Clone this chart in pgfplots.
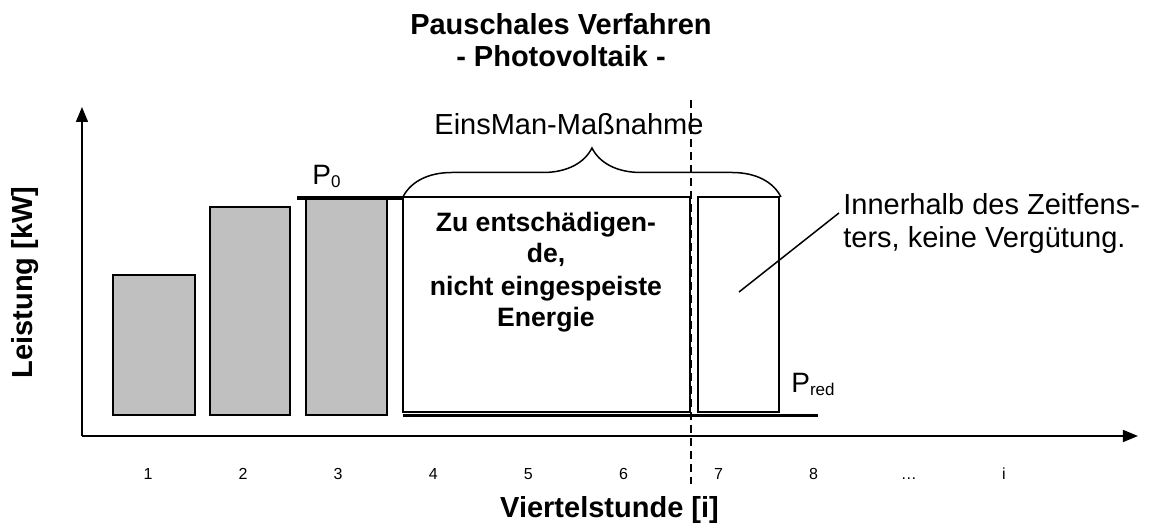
\documentclass[border=0pt]{standalone}
\usepackage{fontspec}
\setmainfont{Liberation Sans}
\usepackage{pgfplots}
\pgfplotsset{compat=1.18}
\usetikzlibrary{arrows.meta,decorations.pathreplacing}
\definecolor{barGray}{HTML}{C0C0C0}
\begin{document}
\begin{tikzpicture}
\begin{axis}[
  scale only axis, width=528pt, height=164.5pt,
  xmin=0.306, xmax=11.41, ymin=0, ymax=329,
  axis lines=left,
  axis line style={line width=0.75pt, -{Triangle[length=7.5pt,width=6pt]}},
  xtick={1,2,3,4,5,6,7,8,9,10},
  xticklabels={1,2,3,4,5,6,7,8,\dots,i},
  ytick=\empty,
  major tick length=0pt,
  xticklabel style={font=\fontsize{8}{9}\selectfont, anchor=base, yshift=-22pt},
  clip=false,
]
% grey bars (quarter hours 1-3)
\addplot[draw=black, line width=0.8pt, fill=barGray] coordinates {(0.632,21) (1.494,21) (1.494,161) (0.632,161)} -- cycle;
\addplot[draw=black, line width=0.8pt, fill=barGray] coordinates {(1.652,21) (2.493,21) (2.493,229) (1.652,229)} -- cycle;
\addplot[draw=black, line width=0.8pt, fill=barGray] coordinates {(2.661,21) (3.513,21) (3.513,237) (2.661,237)} -- cycle;
% white boxes
\addplot[draw=black, line width=0.8pt, fill=white] coordinates {(3.681,24) (6.700,24) (6.700,239) (3.681,239)} -- cycle;
\addplot[draw=black, line width=0.8pt, fill=white] coordinates {(6.784,24) (7.635,24) (7.635,239) (6.784,239)} -- cycle;
% P0 and Pred lines
\addplot[line width=1.8pt] coordinates {(2.567,238) (3.671,238)};
\addplot[line width=1.8pt] coordinates {(3.681,20.5) (8.045,20.5)};
% dashed separator
\addplot[line width=0.6pt, dash pattern=on 4pt off 2.5pt] coordinates {(6.71,336) (6.71,-48)};
% annotation line
\addplot[line width=0.75pt] coordinates {(7.215,144) (8.266,223)};
% brace
\draw[decorate, decoration={brace, amplitude=24.5pt}, line width=0.75pt] (axis cs:3.681,239) -- (axis cs:7.656,239);
% texts
\node[anchor=base, font=\fontsize{14.5}{16}\selectfont] at (axis cs:5.427,301) {EinsMan-Maßnahme};
\node[anchor=base west, inner sep=0pt, font=\fontsize{14}{16}\selectfont] at (axis cs:2.725,251) {P{\fontsize{8.5}{9}\selectfont\raisebox{-1.5pt}{0}}};
\node[anchor=base west, inner sep=0pt, font=\fontsize{14}{16}\selectfont] at (axis cs:7.761,43) {P{\fontsize{8.5}{9}\selectfont\raisebox{-1.5pt}{red}}};
\node[anchor=base, font=\bfseries\fontsize{13.3}{15}\selectfont] at (axis cs:5.185,204) {Zu entschädigen-};
\node[anchor=base, font=\bfseries\fontsize{13.3}{15}\selectfont] at (axis cs:5.185,173) {de,};
\node[anchor=base, font=\bfseries\fontsize{13.3}{15}\selectfont] at (axis cs:5.185,140) {nicht eingespeiste};
\node[anchor=base, font=\bfseries\fontsize{13.3}{15}\selectfont] at (axis cs:5.185,109) {Energie};
\node[anchor=base west, inner sep=0pt, font=\fontsize{14.5}{16}\selectfont] at (axis cs:8.308,221) {Innerhalb des Zeitfens-};
\node[anchor=base west, inner sep=0pt, font=\fontsize{14.5}{16}\selectfont] at (axis cs:8.308,188) {ters, keine Vergütung.};
\node[anchor=base, font=\bfseries\fontsize{14.5}{16}\selectfont] at (axis cs:5.343,401) {Pauschales Verfahren};
\node[anchor=base, font=\bfseries\fontsize{14.5}{16}\selectfont] at (axis cs:5.343,369) {- Photovoltaik -};
\node[anchor=base, font=\bfseries\fontsize{14.5}{16}\selectfont] at (axis cs:5.853,-82) {Viertelstunde [i]};
\node[rotate=90, anchor=center, inner sep=0pt, font=\bfseries\fontsize{14.5}{16}\selectfont] at (axis cs:-0.288,153.5) {Leistung [kW]};
\coordinate (bl) at (axis cs:-0.556,-92);
\coordinate (tr) at (axis cs:11.526,436);
\end{axis}
\pgfresetboundingbox
\path[use as bounding box] (bl) rectangle (tr);
\end{tikzpicture}
\end{document}
